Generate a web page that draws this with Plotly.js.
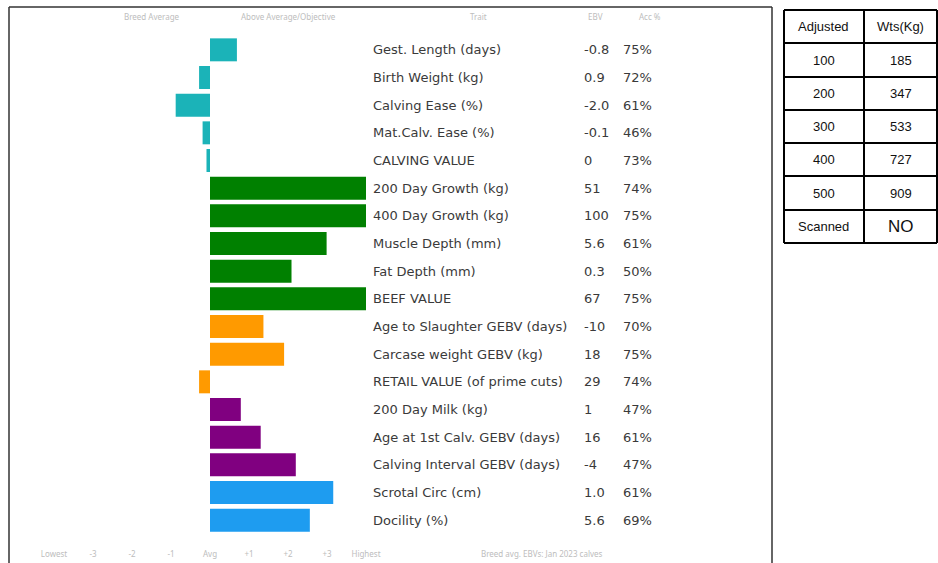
<!DOCTYPE html>
<html>
<head>
<meta charset="utf-8">
<script src="https://cdn.plot.ly/plotly-3.0.1.min.js"></script>
<style>html,body{margin:0;padding:0;background:#fff;}#chart{width:938px;height:563px;}</style>
</head>
<body>
<div id="chart"></div>
<script>
// ---- data ----
const traits = ["Gest. Length (days)", "Birth Weight (kg)", "Calving Ease (%)", "Mat.Calv. Ease (%)", "CALVING VALUE",
  "200 Day Growth (kg)", "400 Day Growth (kg)", "Muscle Depth (mm)", "Fat Depth (mm)", "BEEF VALUE",
  "Age to Slaughter GEBV (days)", "Carcase weight GEBV (kg)", "RETAIL VALUE (of prime cuts)",
  "200 Day Milk (kg)", "Age at 1st Calv. GEBV (days)", "Calving Interval GEBV (days)",
  "Scrotal Circ (cm)", "Docility (%)"];
const ebvs = ["-0.8", "0.9", "-2.0", "-0.1", "0", "51", "100", "5.6", "0.3", "67", "-10", "18", "29", "1", "16", "-4", "1.0", "5.6"];
const accs = ["75%", "72%", "61%", "46%", "73%", "74%", "75%", "61%", "50%", "75%", "70%", "75%", "74%", "47%", "61%", "47%", "61%", "69%"];
const scores = [0.69, -0.28, -0.88, -0.19, -0.09, 4.0, 4.0, 2.99, 2.09, 4.0, 1.37, 1.9, -0.28, 0.79, 1.3, 2.2, 3.16, 2.56];
const groups = ["calving", "calving", "calving", "calving", "calving",
  "growth", "growth", "growth", "growth", "growth",
  "carcase", "carcase", "carcase",
  "fertility", "fertility", "fertility",
  "other", "other"];
const groupColors = {calving: "#1bb3b8", growth: "#008000", carcase: "#ff9a00", fertility: "#800080", other: "#1e9cf0"};
const axisTickVals = [-4, -3, -2, -1, 0, 1, 2, 3, 4];
const axisTickText = ["Lowest", "-3", "-2", "-1", "Avg", "+1", "+2", "+3", "Highest"];
const headerLabels = ["Breed Average", "Above Average/Objective", "Trait", "EBV", "Acc %"];
const tableLeft = ["Adjusted", "100", "200", "300", "400", "500", "Scanned"];
const tableRight = ["Wts(Kg)", "185", "347", "533", "727", "909", "NO"];

// ---- layout helpers (pixel geometry) ----
const W = 938, H = 563;
const mL = 9, mR = 166, mT = 36, mB = 29;
const plotW = W - mL - mR, plotH = H - mT - mB;
const zeroPx = 210, unitPx = 39;
const xr = [(mL - zeroPx) / unitPx, (W - mR - zeroPx) / unitPx];
const dx = px => (px - zeroPx) / unitPx;
const pX = px => (px - mL) / plotW;
const pY = py => (H - mB - py) / plotH;

const annotations = [];
const txtFont = {family: "DejaVu Sans, Verdana, sans-serif", size: 13, color: "#3a3a3a"};
traits.forEach((t, i) => {
  annotations.push({x: dx(371), y: t, xref: "x", yref: "y", text: t, showarrow: false, xanchor: "left", yanchor: "middle", font: txtFont});
  annotations.push({x: dx(582), y: t, xref: "x", yref: "y", text: ebvs[i], showarrow: false, xanchor: "left", yanchor: "middle", font: txtFont});
  annotations.push({x: dx(621), y: t, xref: "x", yref: "y", text: accs[i], showarrow: false, xanchor: "left", yanchor: "middle", font: txtFont});
});
const headerX = [152, 288, 478, 595, 650];
headerLabels.forEach((h, i) => {
  annotations.push({x: pX(headerX[i]), y: pY(17), xref: "paper", yref: "paper", text: h, showarrow: false,
    xanchor: "center", yanchor: "middle", font: {family: "Noto Sans, sans-serif", size: 8, color: "#bdbdbd"}});
});
annotations.push({x: pX(542), y: pY(553), xref: "paper", yref: "paper", text: "Breed avg. EBVs: Jan 2023 calves", showarrow: false,
  xanchor: "center", yanchor: "middle", font: {family: "Noto Sans, sans-serif", size: 8, color: "#bdbdbd"}});

// frame and table
const shapes = [];
const frameLine = {color: "#333", width: 1.5};
shapes.push({type: "line", xref: "paper", yref: "paper", x0: pX(9), x1: pX(9), y0: pY(7), y1: pY(570), line: frameLine});
shapes.push({type: "line", xref: "paper", yref: "paper", x0: pX(9), x1: pX(772), y0: pY(7), y1: pY(7), line: frameLine});
shapes.push({type: "line", xref: "paper", yref: "paper", x0: pX(772), x1: pX(772), y0: pY(7), y1: pY(570), line: frameLine});

const tL = 784, tR = 937, tMid = 864;
const rowEdges = [10, 43, 77, 110, 143, 176, 210, 243];
const tLine = {color: "#000", width: 2};
rowEdges.forEach(r => shapes.push({type: "line", xref: "paper", yref: "paper", x0: pX(tL), x1: pX(tR), y0: pY(r), y1: pY(r), line: tLine}));
[tL, tMid, tR].forEach(c => shapes.push({type: "line", xref: "paper", yref: "paper", x0: pX(c), x1: pX(c), y0: pY(rowEdges[0]), y1: pY(rowEdges[rowEdges.length - 1]), line: tLine}));
tableLeft.forEach((t, i) => {
  const yc = (rowEdges[i] + rowEdges[i + 1]) / 2;
  annotations.push({x: pX((tL + tMid) / 2), y: pY(yc), xref: "paper", yref: "paper", text: t, showarrow: false, xanchor: "center", yanchor: "middle",
    font: {family: "Liberation Sans, Arial, sans-serif", size: 13, color: "#111"}});
  annotations.push({x: pX((tMid + tR) / 2), y: pY(yc), xref: "paper", yref: "paper", text: tableRight[i], showarrow: false, xanchor: "center", yanchor: "middle",
    font: {family: "Liberation Sans, Arial, sans-serif", size: tableRight[i] === "NO" ? 17 : 13, color: "#111"}});
});

const trace = {
  type: "bar", orientation: "h",
  x: scores, y: traits,
  marker: {color: groups.map(g => groupColors[g]), line: {width: 0}},
  hoverinfo: "skip"
};

const layout = {
  width: W, height: H,
  margin: {l: mL, r: mR, t: mT, b: mB, pad: 0},
  paper_bgcolor: "#fff", plot_bgcolor: "#fff",
  showlegend: false,
  bargap: 0.17,
  xaxis: {range: xr, tickvals: axisTickVals, ticktext: axisTickText, showgrid: false, zeroline: false, showline: false,
    ticks: "outside", ticklen: 12, tickcolor: "rgba(0,0,0,0)", tickfont: {family: "Noto Sans, sans-serif", size: 8, color: "#bdbdbd"}},
  yaxis: {type: "category", categoryorder: "array", categoryarray: traits, range: [traits.length - 0.5, -0.5],
    showgrid: false, zeroline: false, showline: false, showticklabels: false, ticks: ""},
  annotations: annotations,
  shapes: shapes
};

Plotly.newPlot("chart", [trace], layout, {displayModeBar: false, staticPlot: true});
</script>
</body>
</html>
